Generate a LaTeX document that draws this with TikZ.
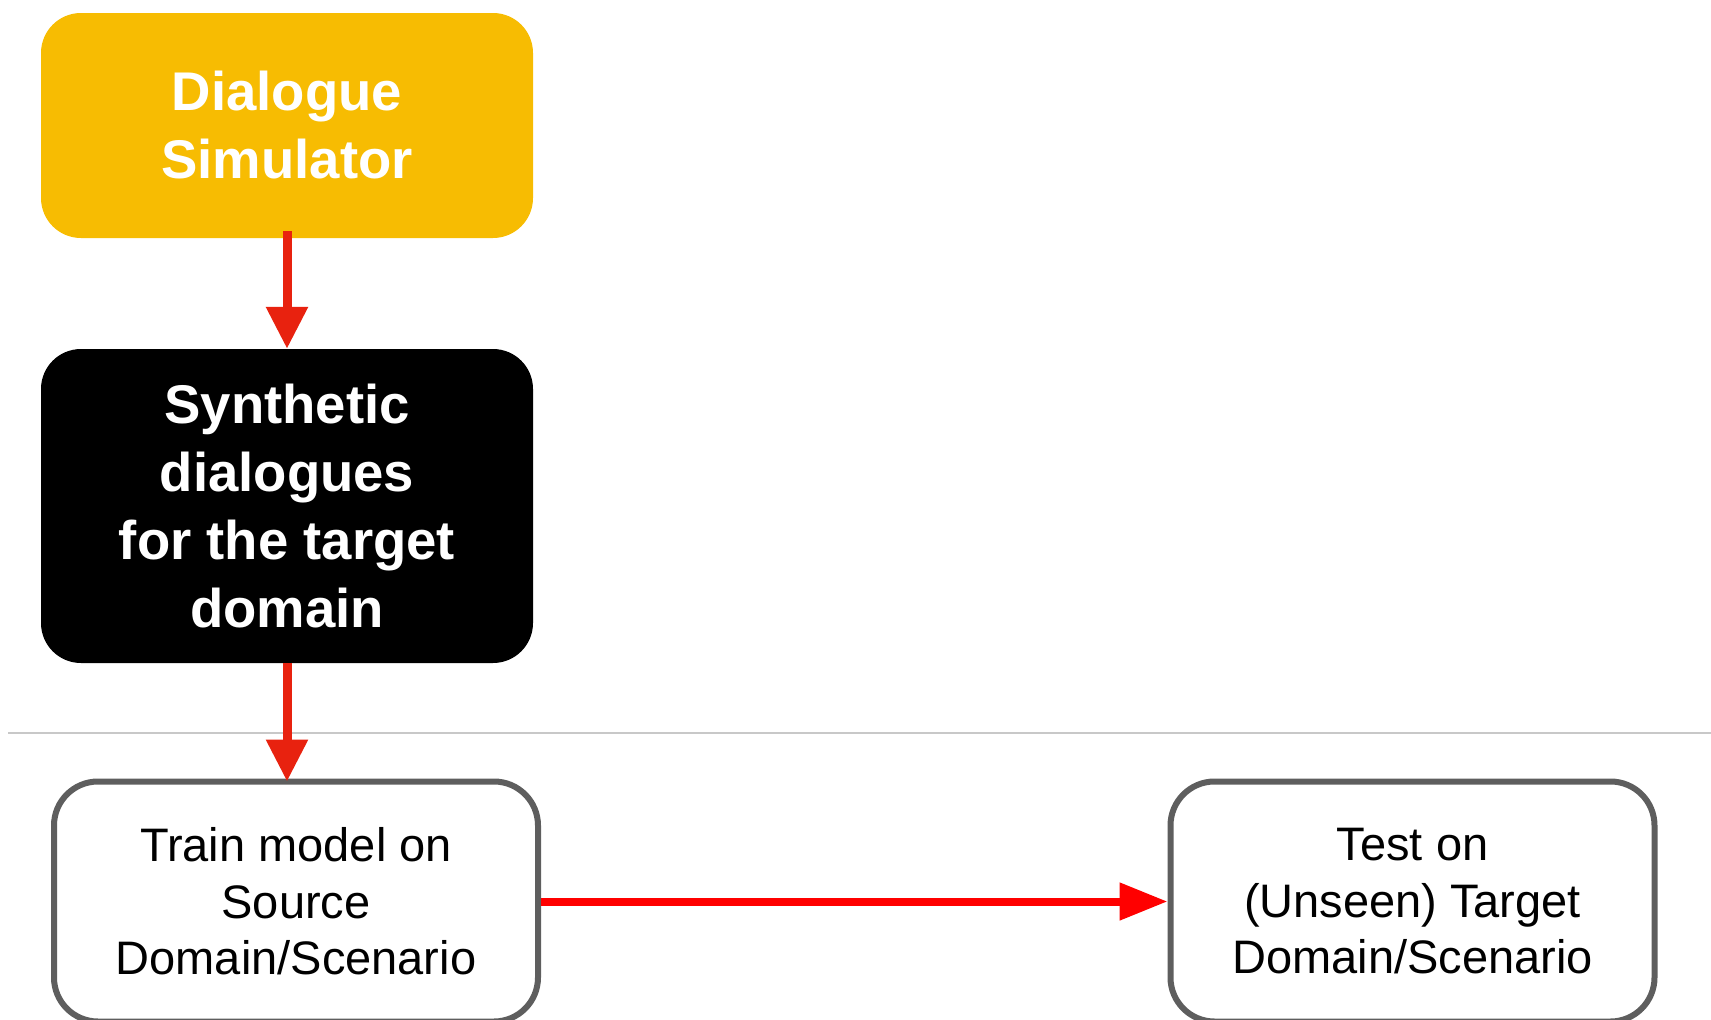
\documentclass[tikz,border=0pt]{standalone}
\usepackage{fontspec}
\setmainfont{Liberation Sans}
\usetikzlibrary{arrows.meta}
\definecolor{simyellow}{HTML}{F7BC02}
\definecolor{flowred}{HTML}{E8220F}
\definecolor{linkred}{HTML}{FF0000}
\definecolor{boxgray}{HTML}{5E5E5E}
\definecolor{rulegray}{HTML}{C8C8C8}

\begin{document}
\begin{tikzpicture}[x=1pt,y=-1pt,
  filledbox/.style={rounded corners=40pt, minimum width=492pt, inner sep=0pt,
    align=center, text=white, font=\bfseries\fontsize{54.5}{68}\selectfont},
  stagebox/.style={draw=boxgray, line width=6pt, rounded corners=44pt, fill=white,
    minimum width=484pt, minimum height=240pt, inner sep=0pt, align=center,
    font=\fontsize{47}{56.5}\selectfont},
  downarrow/.style={draw=flowred, line width=9pt, -{Triangle[length=42pt,width=40pt]}},
  sidearrow/.style={draw=linkred, line width=8pt, -{Triangle[length=48pt,width=36pt]}},
]
\useasboundingbox (0,0) rectangle (1711,1020);

% thin rule across the page
\coordinate (ruleL) at (8,733);
\coordinate (ruleR) at (1711,733);
\draw[rulegray, line width=1.5pt] (ruleL) -- (ruleR);

% generator and its output
\node[filledbox, fill=simyellow, minimum height=225pt] (sim) at (287,125.5)
  {Dialogue\\Simulator};
\node[filledbox, fill=black, minimum height=314pt] (synth) at (287,506)
  {Synthetic\\dialogues\\for the target\\domain};

% train / test stages (their lower edges run off the page)
\node[stagebox] (train) at (296,901.5)
  {Train model on\\Source\\Domain/Scenario};
\node[stagebox] (test) at (1412.5,901.5)
  {Test on\\(Unseen) Target\\Domain/Scenario};

% connectors
\draw[downarrow] ([yshift=7pt]sim.south) -- (synth.north);
\draw[downarrow] (synth.south) -- ([yshift=-3pt]synth.south |- train.north);
\draw[sidearrow] (train.east) -- (test.west);
\end{tikzpicture}
\end{document}
